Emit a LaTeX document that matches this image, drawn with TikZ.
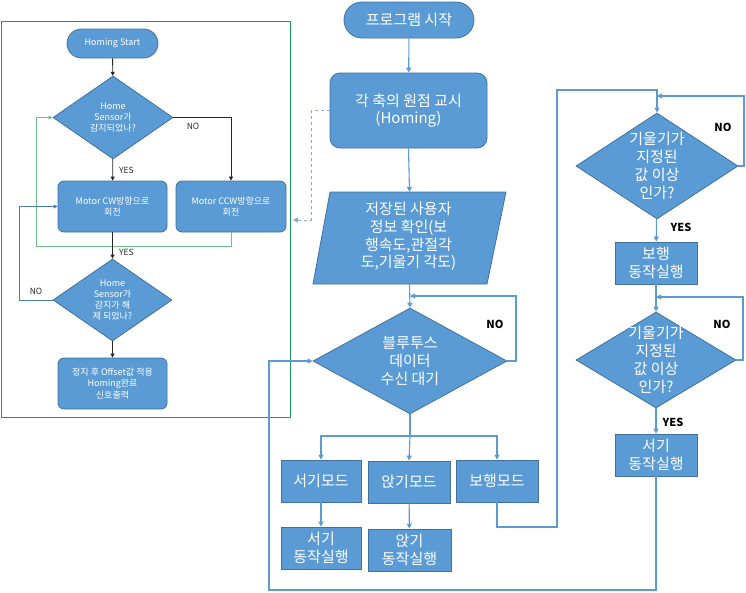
\documentclass[tikz,border=0pt]{standalone}
\usepackage{fontspec}
\setmainfont{Noto Sans CJK KR}
\usetikzlibrary{shapes.geometric,arrows.meta}
\definecolor{fillb}{HTML}{5B9BD5}
\definecolor{edgeb}{HTML}{41719C}
\definecolor{lineb}{HTML}{5B9BD5}
\definecolor{loopb}{HTML}{4A7EBB}
\definecolor{gborder}{HTML}{1E9A5A}
\definecolor{gline}{HTML}{6CC088}
\definecolor{dashc}{HTML}{8FA8C8}
\begin{document}
\begin{tikzpicture}[x=1pt,y=-1pt,
  box/.style={draw=edgeb, fill=fillb, text=white, align=center, inner sep=0pt, line width=0.8pt},
  sbox/.style={box, font=\fontsize{9}{11.5}\selectfont, rounded corners=6pt},
  bbox/.style={box, font=\fontsize{15}{17.5}\selectfont},
  dia/.style={diamond, draw=edgeb, fill=fillb, inner sep=0pt, line width=0.8pt},
  stxt/.style={text=white, align=center, font=\fontsize{9}{11}\selectfont},
  btxt/.style={text=white, align=center, font=\fontsize{15}{17.8}\selectfont},
  arr/.style={-{Triangle[width=5pt,length=5pt]}, draw=lineb, line width=1.1pt},
  karr/.style={-{Triangle[width=4pt,length=4pt]}, draw=black!85, line width=0.8pt},
  barr/.style={-{Triangle[width=4pt,length=4pt]}, draw=loopb, line width=0.8pt},
  garr/.style={-{Triangle[width=4pt,length=4pt]}, draw=gline, line width=0.8pt},
  darr/.style={-{Triangle[width=5pt,length=5pt]}, draw=dashc, line width=0.9pt, dashed},
  slab/.style={font=\fontsize{8.5}{10}\selectfont, text=black!85, inner sep=0pt},
  blab/.style={font=\fontsize{11}{12}\selectfont\bfseries, text=black, inner sep=0pt}
]
\useasboundingbox (0,0) rectangle (746,592);

% ---------- left panel ----------
\draw[gborder, line width=0.9pt] (1,21) rectangle (290.5,417);
\node[sbox, minimum width=91, minimum height=29, rounded corners=14.5pt] (hs) at (112.5,43.5) {Homing Start};
\node[dia, minimum width=120, minimum height=83] (d1) at (113,117.5) {};
\node[stxt] (d1t) at (d1.center) {Home\\Sensor가\\감지되었나?};
\node[sbox, minimum width=109, minimum height=51] (cw) at (112.5,206.5) {Motor CW방향으로\\회전};
\node[sbox, minimum width=110, minimum height=51] (ccw) at (231,206.5) {Motor CCW방향으로\\회전};
\node[dia, minimum width=119, minimum height=82] (d2) at (112.5,300) {};
\node[stxt] (d2t) at (d2.center) {Home\\Sensor가\\감지가 해\\제 되었나?};
\node[sbox, minimum width=109, minimum height=51] (fin) at (112.5,383.5) {정지 후 Offset값 적용\\Homing완료\\신호출력};

\draw[karr] (hs) -- (d1);
\draw[karr] (d1.east) -| (ccw.north);
\draw[karr] (d1) -- (cw);
\draw[garr] (ccw.south) -- ++(0,14) -| (36,117.5) -- (d1.west);
\draw[karr] (cw) -- (d2);
\draw[barr] (d2.west) -- (19,300) |- (cw.west);
\draw[karr] (d2) -- (fin);
\node[slab] (ln1) at (193,126) {NO};
\node[slab, anchor=west] (ly1) at (119,170) {YES};
\node[slab, anchor=west] (ly2) at (119,252) {YES};
\node[slab] (ln2) at (36,291) {NO};

% ---------- center ----------
\node[bbox, minimum width=130, minimum height=36, rounded corners=18pt] (ps) at (409,20) {프로그램 시작};
\node[bbox, minimum width=157, minimum height=75, rounded corners=10pt] (hb) at (408.5,110.5) {각 축의 원점 교시\\(Homing)};
\node[minimum width=175, minimum height=92, inner sep=0pt] (para) at (409.5,238) {};
\draw[draw=edgeb, fill=fillb, line width=0.8pt] (330,192) -- (506,192) -- (487,284) -- (313,284) -- cycle;
\node[btxt] (parat) at (408.5,236.5) {저장된 사용자\\정보 확인(보\\행속도,관절각\\도,기울기 각도)};
\node[dia, minimum width=194, minimum height=106] (d3) at (410,361) {};
\node[btxt] (d3t) at (d3.center) {블루투스\\데이터\\수신 대기};
\node[bbox, minimum width=80, minimum height=42] (m1) at (321,481) {서기모드};
\node[bbox, minimum width=82, minimum height=42] (m2) at (409,482) {앉기모드};
\node[bbox, minimum width=82, minimum height=42] (m3) at (497,481) {보행모드};
\node[bbox, minimum width=80, minimum height=42] (e1) at (321,548) {서기\\동작실행};
\node[bbox, minimum width=83, minimum height=42] (e2) at (409.5,550) {앉기\\동작실행};

\coordinate (dt) at (293,220);
\coordinate (j3) at (410,296);
\coordinate (sp) at (410,436);

\draw[arr] (ps) -- (hb);
\draw[darr] (hb.west) -- (311,110.5) |- (dt);
\draw[arr] (hb.south) -- (para.north);
\draw[arr] (para.south) -- (d3.north);
\draw[arr] (d3.east) -- (516,361) |- (j3);
\draw[lineb, line width=1.1pt] (d3.south) -- (sp);
\draw[arr] (sp) -| (m1.north);
\draw[arr] (sp) -| (m3.north);
\draw[arr] (sp) -- (m2.north);
\draw[arr] (m1) -- (e1);
\draw[arr] (m2) -- (e2);
\node[blab] (ln3) at (495,324) {NO};

% ---------- right ----------
\node[dia, minimum width=162, minimum height=106] (r1) at (657,166) {};
\node[btxt] (r1t) at (r1.center) {기울기가\\지정된\\값 이상\\인가?};
\node[bbox, minimum width=82, minimum height=42] (w1) at (656,263) {보행\\동작실행};
\node[dia, minimum width=160, minimum height=96] (r2) at (656,360) {};
\node[btxt] (r2t) at (r2.center) {기울기가\\지정된\\값 이상\\인가?};
\node[bbox, minimum width=82, minimum height=42] (s1) at (656,455) {서기\\동작실행};

\coordinate (t1) at (657,90);
\coordinate (j1) at (657,96);
\coordinate (j2) at (656,297);

\draw[arr] (m3.south) |- (557,527) |- (t1) -- (r1.north);
\draw[arr] (r1.east) -- (744,166) |- (j1);
\draw[arr] (r1) -- (w1);
\draw[arr] (w1) -- (r2);
\draw[arr] (r2.east) -- (743,360) |- (j2);
\draw[arr] (r2) -- (s1);
\draw[arr] (s1.south) |- (269,590) |- (d3.west);
\node[blab] (ln4) at (723,127) {NO};
\node[blab] (ly3) at (681,227) {YES};
\node[blab] (ln5) at (722,324) {NO};
\node[blab] (ly4) at (673,422) {YES};
\end{tikzpicture}
\end{document}
